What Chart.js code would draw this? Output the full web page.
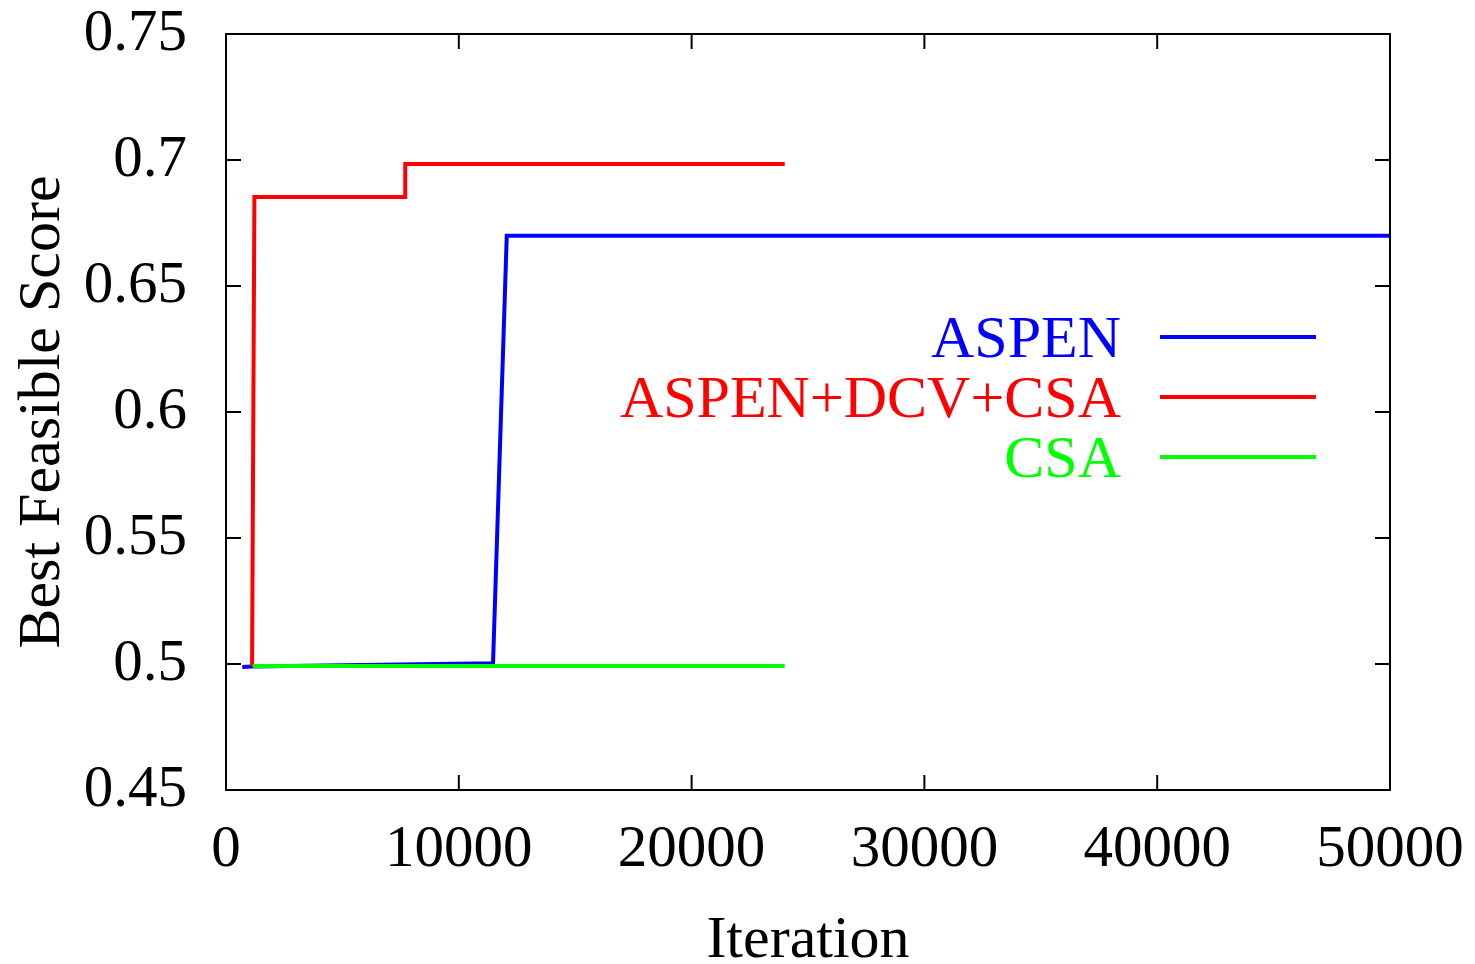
<!DOCTYPE html>
<html>
<head>
<meta charset="utf-8">
<script src="https://cdn.jsdelivr.net/npm/chart.js@4.4.1/dist/chart.umd.min.js"></script>
<style>
    body { margin: 0; background: #fff; }
    #wrap { width: 1475px; height: 964px; }
</style>
</head>
<body>
<div id="wrap"><canvas id="scoreChart" width="1475" height="964"></canvas></div>
<script>
// Values
const aspenX = [700, 1100, 11470, 12060, 50000];
const aspenY = [0.4988, 0.4990, 0.5003, 0.6699, 0.6699];

const dcvX = [1120, 1220, 7700, 7700, 24000];
const dcvY = [0.4990, 0.6853, 0.6853, 0.6984, 0.6984];

const csaX = [1150, 24000];
const csaY = [0.4992, 0.4992];

const xTicks = [0, 10000, 20000, 30000, 40000, 50000];
const yTicks = [0.45, 0.5, 0.55, 0.6, 0.65, 0.7, 0.75];

const serif = '"Liberation Serif", "Times New Roman", serif';

function toPoints(xs, ys) {
    return xs.map((x, i) => ({ x: x, y: ys[i] }));
}

// gnuplot-like frame with inward ticks on all four sides
const framePlugin = {
    id: 'frame',
    afterDatasetsDraw(chart) {
        const ctx = chart.ctx;
        const a = chart.chartArea;
        const xs = chart.scales.x;
        const ys = chart.scales.y;
        const len = 15;
        ctx.save();
        ctx.strokeStyle = '#000';
        ctx.lineWidth = 2;
        ctx.beginPath();
        xTicks.forEach(v => {
            const px = xs.getPixelForValue(v);
            ctx.moveTo(px, a.bottom); ctx.lineTo(px, a.bottom - len);
            ctx.moveTo(px, a.top); ctx.lineTo(px, a.top + len);
        });
        yTicks.forEach(v => {
            const py = ys.getPixelForValue(v);
            ctx.moveTo(a.left, py); ctx.lineTo(a.left + len, py);
            ctx.moveTo(a.right, py); ctx.lineTo(a.right - len, py);
        });
        ctx.stroke();
        ctx.strokeRect(a.left, a.top, a.right - a.left, a.bottom - a.top);
        ctx.restore();
    }
};

// key inside the plot: right-aligned label followed by a line sample
const keyPlugin = {
    id: 'key',
    afterDraw(chart) {
        const ctx = chart.ctx;
        ctx.save();
        ctx.font = '60px ' + serif;
        ctx.textAlign = 'right';
        ctx.textBaseline = 'alphabetic';
        chart.data.datasets.forEach((ds, i) => {
            const y = 337 + i * 60;
            ctx.fillStyle = ds.borderColor;
            ctx.fillText(ds.label, 1121, y + 20);
            ctx.strokeStyle = ds.borderColor;
            ctx.lineWidth = 4;
            ctx.beginPath();
            ctx.moveTo(1160, y);
            ctx.lineTo(1316, y);
            ctx.stroke();
        });
        ctx.restore();
    }
};

// keep the plot box where the reference has it
function noOverhang(scale) {
    scale.paddingTop = 0;
    scale.paddingBottom = 0;
    scale.paddingLeft = 0;
    scale.paddingRight = 0;
}

const ctx = document.getElementById('scoreChart').getContext('2d');
new Chart(ctx, {
    type: 'line',
    data: {
        datasets: [{
            label: 'ASPEN',
            data: toPoints(aspenX, aspenY),
            borderColor: '#0000ff',
            borderWidth: 4,
            pointRadius: 0,
            order: 2
        }, {
            label: 'ASPEN+DCV+CSA',
            data: toPoints(dcvX, dcvY),
            borderColor: '#ff0000',
            borderWidth: 4,
            pointRadius: 0,
            order: 1
        }, {
            label: 'CSA',
            data: toPoints(csaX, csaY),
            borderColor: '#00ff00',
            borderWidth: 4,
            pointRadius: 0,
            order: 0
        }]
    },
    options: {
        responsive: false,
        animation: false,
        layout: { padding: { left: 0, right: 85, top: 34, bottom: 0 } },
        plugins: {
            legend: { display: false },
            tooltip: { enabled: false }
        },
        scales: {
            x: {
                type: 'linear',
                min: 0,
                max: 50000,
                afterFit(scale) { scale.height = 174; noOverhang(scale); },
                afterBuildTicks(scale) { scale.ticks = xTicks.map(v => ({ value: v })); },
                grid: { display: false, drawTicks: false },
                border: { display: false },
                ticks: {
                    padding: 25,
                    maxRotation: 0,
                    color: '#000',
                    font: { family: serif, size: 59 },
                    callback: v => String(v)
                },
                title: {
                    display: true,
                    text: 'Iteration',
                    color: '#000',
                    padding: { top: 0, bottom: 0 },
                    font: { family: serif, size: 60, lineHeight: 0.75 }
                }
            },
            y: {
                min: 0.45,
                max: 0.75,
                afterFit(scale) { scale.width = 226; noOverhang(scale); },
                afterBuildTicks(scale) { scale.ticks = yTicks.map(v => ({ value: v })); },
                grid: { display: false, drawTicks: false },
                border: { display: false },
                ticks: {
                    padding: 39,
                    color: '#000',
                    font: { family: serif, size: 59 },
                    callback: v => String(Math.round(v * 100) / 100)
                },
                title: {
                    display: true,
                    text: 'Best Feasible Score',
                    color: '#000',
                    padding: { top: 7, bottom: 0 },
                    font: { family: serif, size: 60, lineHeight: 1.2 }
                }
            }
        }
    },
    plugins: [framePlugin, keyPlugin]
});
</script>
</body>
</html>
